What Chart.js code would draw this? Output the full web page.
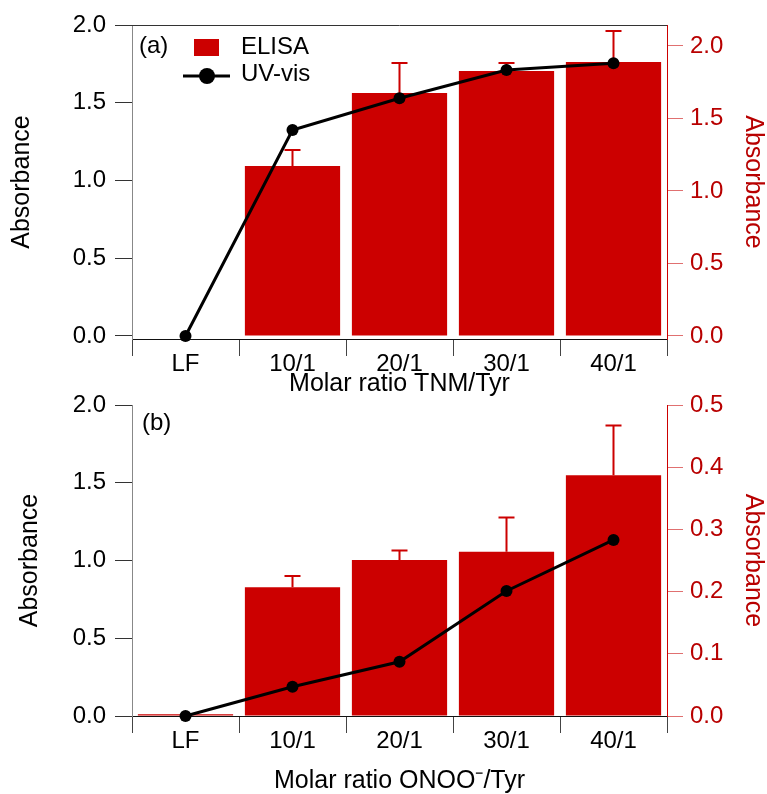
<!DOCTYPE html>
<html>
<head>
<meta charset="utf-8">
<script src="https://cdn.jsdelivr.net/npm/chart.js@4"></script>
<style>
  body { margin: 0; background: #fff; }
  .panel { position: absolute; left: 0; width: 767px; }
</style>
</head>
<body>
<div class="panel" style="top:0;height:397px"><canvas id="chartA" width="767" height="397"></canvas></div>
<div class="panel" style="top:370px;height:424px"><canvas id="chartB" width="767" height="424"></canvas></div>
<script>
const categories = ['LF', '10/1', '20/1', '30/1', '40/1'];

// panel (a) - TNM
const elisaA = [0, 1.172, 1.676, 1.828, 1.890];
const elisaErrA = [0, 0.111, 0.207, 0.055, 0.213];
const uvvisA = [0, 1.325, 1.529, 1.711, 1.754];

// panel (b) - ONOO-
const elisaB = [0.003, 0.207, 0.251, 0.264, 0.387];
const elisaErrB = [0, 0.018, 0.015, 0.055, 0.080];
const uvvisB = [0, 0.188, 0.349, 0.804, 1.132];

const leftTicks = [0, 0.5, 1.0, 1.5, 2.0];
const rightTicksA = [0, 0.5, 1.0, 1.5, 2.0];
const rightTicksB = [0, 0.1, 0.2, 0.3, 0.4, 0.5];

const RED = '#cc0000';
Chart.defaults.font.family = '"Liberation Sans", Arial, sans-serif';

// error bars on top of the ELISA bars
const errorBars = {
    id: 'errorBars',
    afterDatasetDraw(chart, args) {
        const ds = chart.data.datasets[args.index];
        if (!ds.errors) return;
        const ctx = chart.ctx;
        const yScale = chart.scales[ds.yAxisID];
        ctx.save();
        ctx.strokeStyle = RED;
        ctx.lineWidth = 2;
        args.meta.data.forEach((bar, i) => {
            const err = ds.errors[i];
            if (!err) return;
            const top = yScale.getPixelForValue(ds.data[i] + err);
            ctx.beginPath();
            ctx.moveTo(bar.x, bar.y);
            ctx.lineTo(bar.x, top);
            ctx.moveTo(bar.x - 8, top);
            ctx.lineTo(bar.x + 8, top);
            ctx.stroke();
        });
        ctx.restore();
    }
};

// panel letter, legend and top frame line
const panelDecor = {
    id: 'panelDecor',
    afterDraw(chart, args, opts) {
        const ctx = chart.ctx;
        const area = chart.chartArea;
        ctx.save();
        if (opts.topBorder) {
            ctx.strokeStyle = '#333';
            ctx.lineWidth = 1;
            ctx.beginPath();
            ctx.moveTo(area.left, area.top + 0.5);
            ctx.lineTo(area.right, area.top + 0.5);
            ctx.stroke();
        }
        ctx.fillStyle = '#000';
        ctx.font = '24px "Liberation Sans", Arial, sans-serif';
        ctx.textBaseline = 'middle';
        ctx.textAlign = 'left';
        ctx.fillText(opts.label, area.left + opts.labelDx, area.top + opts.labelDy);
        if (opts.legend) {
            const x0 = area.left;
            const y0 = area.top;
            ctx.fillStyle = RED;
            ctx.fillRect(x0 + 62, y0 + 14, 25, 17);
            ctx.fillStyle = '#000';
            ctx.fillText('ELISA', x0 + 109, y0 + 22);
            ctx.strokeStyle = '#000';
            ctx.lineWidth = 3;
            ctx.beginPath();
            ctx.moveTo(x0 + 51, y0 + 51);
            ctx.lineTo(x0 + 98, y0 + 51);
            ctx.stroke();
            ctx.beginPath();
            ctx.arc(x0 + 75, y0 + 51, 8, 0, Math.PI * 2);
            ctx.fill();
            ctx.fillText('UV-vis', x0 + 109, y0 + 49);
        }
        ctx.restore();
    }
};

function makePanel(id, cfg) {
    return new Chart(document.getElementById(id), {
        type: 'bar',
        data: {
            labels: categories,
            datasets: [
                {
                    type: 'line',
                    label: 'UV-vis',
                    data: cfg.uvvis,
                    yAxisID: 'yLeft',
                    borderColor: '#000',
                    backgroundColor: '#000',
                    borderWidth: 3,
                    pointRadius: 6,
                    pointBorderWidth: 0,
                    tension: 0,
                    clip: false,
                    order: 0
                },
                {
                    label: 'ELISA',
                    data: cfg.elisa,
                    errors: cfg.errors,
                    yAxisID: 'yRight',
                    backgroundColor: RED,
                    borderWidth: 0,
                    barPercentage: 0.89,
                    categoryPercentage: 1.0,
                    order: 1
                }
            ]
        },
        options: {
            responsive: false,
            animation: false,
            layout: { padding: { top: cfg.padTop, left: 0, right: 0, bottom: 0 } },
            plugins: {
                legend: { display: false },
                tooltip: { enabled: false },
                panelDecor: cfg.decor
            },
            scales: {
                x: {
                    offset: true,
                    grid: { offset: true, drawOnChartArea: false, drawTicks: true, tickLength: 17, color: '#444' },
                    border: { display: true, color: '#111' },
                    ticks: { color: '#000', font: { size: 24, lineHeight: 1 }, padding: -3.5, maxRotation: 0, autoSkip: false },
                    title: { display: true, text: cfg.xTitle, color: '#000', font: { size: 25, lineHeight: 1 }, padding: { top: 0, bottom: 0 } },
                    afterFit: s => { s.height = cfg.xHeight; }
                },
                yLeft: {
                    position: 'left',
                    min: cfg.leftMin,
                    max: 2.0,
                    afterBuildTicks: s => { s.ticks = leftTicks.map(v => ({ value: v })); },
                    grid: { drawOnChartArea: false, drawTicks: true, tickLength: 17, color: '#333' },
                    border: { display: true, color: '#888' },
                    ticks: { color: '#000', font: { size: 24 }, padding: 9, callback: v => v.toFixed(1) },
                    title: { display: true, text: 'Absorbance', color: '#000', font: { size: 25, lineHeight: 1 }, padding: { top: cfg.leftTitlePad, bottom: 0 } },
                    afterFit: s => { s.width = 132; }
                },
                yRight: {
                    position: 'right',
                    min: cfg.rightMin,
                    max: cfg.rightMax,
                    afterBuildTicks: s => { s.ticks = cfg.rightTicks.map(v => ({ value: v })); },
                    grid: { drawOnChartArea: false, drawTicks: true, tickLength: 16, color: '#e07070' },
                    border: { display: true, color: RED },
                    ticks: { color: '#b80000', font: { size: 24 }, padding: 7, callback: v => v.toFixed(1) },
                    title: { display: true, text: 'Absorbance', color: '#b80000', font: { size: 25, lineHeight: 1 }, padding: { top: 2, bottom: 0 } },
                    afterFit: s => { s.width = 100; }
                }
            }
        },
        plugins: [errorBars, panelDecor]
    });
}

makePanel('chartA', {
    elisa: elisaA, errors: elisaErrA, uvvis: uvvisA,
    padTop: 25, xHeight: 58,
    leftMin: -0.0193, rightMin: -0.0207, rightMax: 2.1448, rightTicks: rightTicksA,
    leftTitlePad: 10,
    xTitle: 'Molar ratio TNM/Tyr',
    decor: { label: '(a)', labelDx: 7, labelDy: 21, legend: true, topBorder: true }
});

makePanel('chartB', {
    elisa: elisaB, errors: elisaErrB, uvvis: uvvisB,
    padTop: 35, xHeight: 78,
    leftMin: 0, rightMin: 0, rightMax: 0.5, rightTicks: rightTicksB,
    leftTitlePad: 18,
    xTitle: 'Molar ratio ONOO\u207B/Tyr',
    decor: { label: '(b)', labelDx: 10, labelDy: 18, legend: false, topBorder: false }
});
</script>
</body>
</html>
